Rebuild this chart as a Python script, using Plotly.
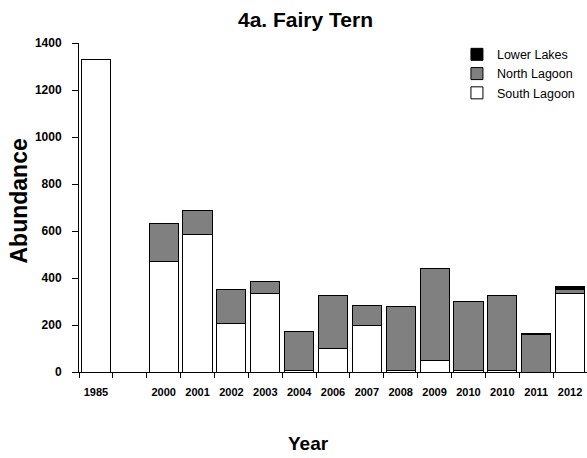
import plotly.graph_objects as go

years = ["1985", "", "2000", "2001", "2002", "2003", "2004", "2006", "2007",
         "2008", "2009", "2010", "2010", "2011", "2012"]
south_lagoon = [1330, None, 472, 587, 208, 336, 5, 98, 198, 5, 47, 5, 5, 0, 332]
north_lagoon = [0, None, 160, 102, 141, 50, 168, 227, 83, 273, 393, 295, 320, 160, 18]
lower_lakes = [0, None, 0, 0, 0, 0, 0, 0, 0, 0, 0, 0, 0, 5, 12]
y_ticks = [0, 200, 400, 600, 800, 1000, 1200, 1400]

x = list(range(len(years)))
font = "Liberation Sans, Arial, sans-serif"

PLOT_W = 508.0


def px_to_paper(px):
    return (px - 79) / PLOT_W


fig = go.Figure()
fig.add_trace(go.Bar(x=x, y=south_lagoon, name="South Lagoon",
                     marker=dict(color="white", line=dict(color="black", width=1))))
fig.add_trace(go.Bar(x=x, y=north_lagoon, name="North Lagoon",
                     marker=dict(color="#808080", line=dict(color="black", width=1))))
fig.add_trace(go.Bar(x=x, y=lower_lakes, name="Lower Lakes",
                     marker=dict(color="black", line=dict(color="black", width=1))))

fig.update_layout(
    width=587, height=458,
    barmode="stack", bargap=0.14,
    plot_bgcolor="white", paper_bgcolor="white",
    margin=dict(l=79, r=0, t=43, b=86),
    font=dict(family=font, color="black"),
    showlegend=True,
    legend=dict(traceorder="reversed", x=0.744, y=1.01, xanchor="left", yanchor="top",
                font=dict(size=12.5, family=font), bgcolor="rgba(0,0,0,0)",
                itemwidth=30, tracegroupgap=0),
    annotations=[
        dict(text="<b>4a. Fairy Tern</b>", xref="paper", yref="paper",
             x=px_to_paper(305), y=1.0, yshift=24, xanchor="center", yanchor="middle",
             showarrow=False, font=dict(size=21, family=font)),
        dict(text="<b>Year</b>", xref="paper", yref="paper",
             x=px_to_paper(308), y=0, yshift=-71, xanchor="center", yanchor="middle",
             showarrow=False, font=dict(size=19, family=font)),
        dict(text="<b>Abundance</b>", xref="paper", yref="paper",
             x=0, xshift=-61, y=0.5, yshift=6, xanchor="center", yanchor="middle",
             textangle=-90, showarrow=False, font=dict(size=23, family=font)),
    ],
)

fig.update_xaxes(
    range=[-0.5, 14.5], tickmode="array", tickvals=x,
    ticktext=["<b>%s</b>" % y for y in years], ticks="", ticklen=0,
    tickfont=dict(size=11, family=font), ticklabelstandoff=10,
    showline=True, linecolor="black", linewidth=1, showgrid=False, zeroline=False,
    minor=dict(tickmode="array", tickvals=[i - 0.5 for i in x] + [14.5],
               ticks="outside", ticklen=5, tickcolor="black", showgrid=False),
)
fig.update_yaxes(
    range=[0, 1400], tickmode="array", tickvals=y_ticks,
    ticktext=["<b>%d</b>" % v for v in y_ticks],
    ticks="outside", ticklen=6, tickcolor="black",
    tickfont=dict(size=12, family=font), ticklabelstandoff=8,
    showline=True, linecolor="black", linewidth=1, showgrid=False, zeroline=False,
)

fig.write_html("out.html",
               config={"displayModeBar": False},
               post_script="document.body.style.margin='0';"
                           "document.body.style.overflow='hidden';")
